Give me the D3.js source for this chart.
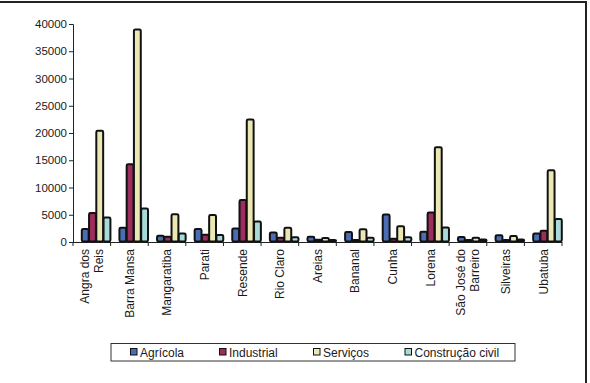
<!DOCTYPE html>
<html><head><meta charset="utf-8">
<script src="https://cdn.jsdelivr.net/npm/d3@7"></script>
<style>body{margin:0;background:#fff}svg{display:block}text{font-family:"Liberation Sans",Arial,sans-serif;fill:#1a1a1a}</style>
</head><body><svg id="c" width="590" height="383"></svg>
<script>
const categories = ["Angra dos|Reis","Barra Mansa","Mangaratiba","Parati","Resende","Rio Claro","Areias","Bananal","Cunha","Lorena","São José do|Barreiro","Silveiras","Ubatuba"];
const seriesNames = ["Agrícola","Industrial","Serviços","Construção civil"];
const agricola   = [2400, 2600, 1150, 2400, 2500, 1750, 950, 1850, 5050, 1900, 900, 1250, 1550];
const industrial = [5300, 14250, 950, 1350, 7700, 800, 400, 350, 600, 5400, 350, 350, 2050];
const servicos   = [20400, 39000, 5100, 4950, 22500, 2600, 750, 2350, 2900, 17400, 800, 1100, 13150];
const construcao = [4500, 6150, 1550, 1300, 3750, 850, 350, 800, 850, 2650, 450, 450, 4200];
const yTicks = [0,5000,10000,15000,20000,25000,30000,35000,40000];
const colors = ["#4a6db4","#9c2d5c","#ebe8b4","#a8dada"];

const series = [agricola, industrial, servicos, construcao];
const svg = d3.select("#c");

// frame
svg.append("path").attr("d","M0,2H586V383").attr("fill","none").attr("stroke","#222").attr("stroke-width",2);

const x = d3.scaleBand().domain(categories).range([73,562]).padding(0);
const y = d3.scaleLinear().domain([0,40000]).range([242,24]);
const xs = d3.scaleBand().domain(d3.range(4)).range([8.6, x.bandwidth()]).padding(0);

// y axis
const ya = svg.append("g").attr("transform","translate(73,0)")
  .call(d3.axisLeft(y).tickValues(yTicks).tickSize(4).tickPadding(2).tickFormat(d3.format("d")));
ya.select(".domain").attr("stroke","#222");
ya.selectAll(".tick line").attr("stroke","#222");
ya.selectAll("text").attr("font-size","11.5px").attr("font-family","Liberation Sans, Arial, sans-serif").attr("fill","#1a1a1a");

// x axis baseline + ticks at boundaries
svg.append("line").attr("x1",73).attr("x2",562).attr("y1",242.5).attr("y2",242.5).attr("stroke","#222");
const bounds = categories.map(c=>x(c)).concat([x.range()[1]]);
svg.selectAll(".xt").data(bounds).enter().append("line")
  .attr("x1",d=>d).attr("x2",d=>d).attr("y1",242).attr("y2",246).attr("stroke","#222");

// bars
categories.forEach((c,i)=>{
  series.forEach((s,j)=>{
    const v = s[i];
    const bx = x(c)+xs(j), bw = xs.bandwidth();
    const top = y(v);
    svg.append("rect").attr("x",bx+0.2).attr("y",top).attr("width",bw-0.4).attr("height",Math.max(1,241.5-top))
      .attr("rx",1.4).attr("fill",colors[j]).attr("stroke","#111").attr("stroke-width",2);
  });
});

// x labels
categories.forEach(c=>{
  const lines = c.split("|");
  const cx = x(c)+x.bandwidth()/2;
  const t = svg.append("text").attr("transform",`translate(${cx},249) rotate(-90)`)
    .attr("text-anchor","end").attr("font-size","12px");
  lines.forEach((l,k)=>{
    t.append("tspan").attr("x",0).attr("dy", k===0 ? (4.3 - (lines.length-1)*7) : 14).text(l);
  });
});

// legend
svg.append("rect").attr("x",111).attr("y",343.5).attr("width",404).attr("height",17.5)
  .attr("fill","#fff").attr("stroke","#333").attr("stroke-width",1);
const lx = [130.5,219.5,313.5,405];
seriesNames.forEach((n,j)=>{
  svg.append("rect").attr("x",lx[j]).attr("y",348.5).attr("width",6.5).attr("height",6.5)
    .attr("fill",colors[j]).attr("stroke","#111").attr("stroke-width",1);
  svg.append("text").attr("x",lx[j]+9.5).attr("y",356.5).attr("font-size","12px").text(n);
});
</script></body></html>
